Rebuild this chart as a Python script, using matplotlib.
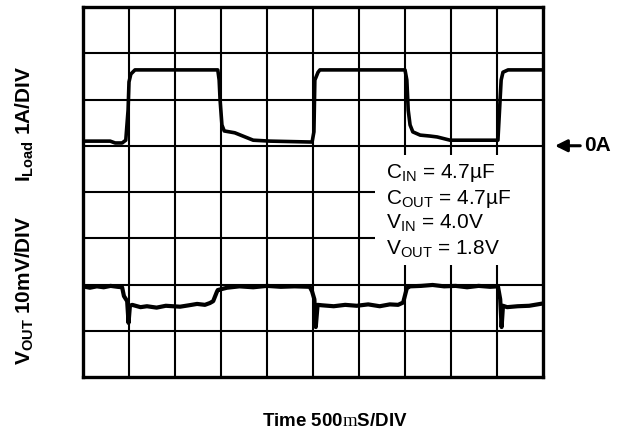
import matplotlib
matplotlib.use("Agg")
import matplotlib.pyplot as plt
from matplotlib.patches import Rectangle

plt.rcParams['font.family'] = ['Liberation Sans', 'DejaVu Sans']
plt.rcParams['mathtext.fontset'] = 'custom'
plt.rcParams['mathtext.rm'] = 'Liberation Serif'
plt.rcParams['mathtext.bf'] = 'Liberation Sans:bold'
plt.rcParams['mathtext.default'] = 'regular'

# time axis in divisions (500mS/DIV), 10 x 8 divisions
n_xdiv, n_ydiv = 10, 8

# load current trace, amps (1A/DIV), zero line at division 5
t_iload = [0.0, 0.59, 0.70, 0.85, 0.93, 0.98, 1.00, 1.04, 1.13,
           2.93, 2.96, 2.98, 3.02, 3.07, 3.30, 3.70, 4.07, 4.98,
           5.02, 5.04, 5.11, 5.15, 7.00, 7.04, 7.07, 7.11, 7.17,
           7.33, 7.54, 7.70, 7.98, 8.89, 9.02, 9.09, 9.13, 9.24, 10.0]
i_load = [0.10, 0.10, 0.06, 0.06, 0.12, 0.77, 1.38, 1.55, 1.64,
          1.64, 1.42, 0.99, 0.45, 0.32, 0.28, 0.12, 0.10, 0.08,
          0.30, 1.42, 1.59, 1.64, 1.64, 1.42, 0.77, 0.45, 0.30,
          0.23, 0.21, 0.19, 0.12, 0.12, 0.12, 1.42, 1.59, 1.64, 1.64]
iload_zero_div = 5

# output voltage deviation, mV (10mV/DIV), nominal at division 2
t_vout = [0.0, 0.15, 0.30, 0.45, 0.60, 0.75, 0.85, 0.89, 0.96, 0.99, 1.02,
          1.07, 1.25, 1.39, 1.60, 1.80, 2.11, 2.30, 2.48, 2.65, 2.76, 2.83,
          2.91, 2.93, 3.13, 3.40, 3.70, 4.00, 4.30, 4.60, 4.93, 4.98, 5.03,
          5.06, 5.10, 5.20, 5.45, 5.70, 5.95, 6.20, 6.45, 6.67, 6.85, 6.96, 7.04,
          7.11, 7.35, 7.60, 7.85, 8.10, 8.35, 8.60, 8.85, 9.02, 9.07, 9.10,
          9.13, 9.22, 9.45, 9.70, 10.0]
v_out = [-0.4, -0.7, -0.4, -0.6, -0.3, -0.5, -0.6, -2.5, -3.6, -8.3, -4.6,
         -4.4, -4.9, -4.7, -5.0, -4.6, -4.8, -4.5, -4.2, -4.4, -4.0, -3.6,
         -1.6, -1.2, -0.7, -0.4, -0.6, -0.3, -0.5, -0.4, -0.5, -1.5, -3.2,
         -9.2, -4.4, -4.5, -4.7, -4.4, -4.6, -4.3, -4.7, -4.3, -4.4, -3.9, -0.8,
         -0.4, -0.3, -0.1, -0.4, -0.3, -0.6, -0.3, -0.5, -0.4, -3.2, -9.2,
         -4.6, -4.9, -4.7, -4.6, -4.1]
vout_nominal_div = 2

conditions = ["C$_{IN}$ = 4.7µF", "C$_{OUT}$ = 4.7µF",
              "V$_{IN}$ = 4.0V", "V$_{OUT}$ = 1.8V"]

fig = plt.figure(figsize=(6.3, 4.37), dpi=100)
ax = fig.add_axes([83 / 630, 1 - 377 / 437, 460 / 630, 370 / 437])
ax.set_xlim(0, n_xdiv)
ax.set_ylim(0, n_ydiv)
ax.set_xticks([])
ax.set_yticks([])
for s in ax.spines.values():
    s.set_linewidth(2.4)

# scope graticule
for i in range(1, n_xdiv):
    ax.axvline(i, color='black', lw=1.5, zorder=1)
for j in range(1, n_ydiv):
    ax.axhline(j, color='black', lw=1.5, zorder=1)

# white patch behind the test conditions
ax.add_patch(Rectangle((6.35, 2.42), 3.65, 2.38, facecolor='white',
                       edgecolor='none', zorder=1.5))

ax.plot(t_iload, [v + iload_zero_div for v in i_load],
        color='black', lw=2.6, zorder=3, solid_joinstyle='round')
ax.plot(t_vout, [v / 10 + vout_nominal_div for v in v_out],
        color='black', lw=3.0, zorder=3, solid_joinstyle='round')

for k, txt in enumerate(conditions):
    ax.text(6.59, 4.30 - 0.55 * k, txt, fontsize=15, va='baseline', ha='left', zorder=4)

# zero marker for load current
ax.annotate('', xy=(10.2, iload_zero_div), xytext=(10.87, iload_zero_div),
            arrowprops=dict(arrowstyle='-|>', color='black', lw=2.2, mutation_scale=18),
            annotation_clip=False)
ax.text(10.9, iload_zero_div, '0A', fontsize=15, weight='bold', va='center', ha='left')

fig.text(25 / 630, 1 - 124 / 437, 'I$_{Load}$ 1A/DIV', rotation=90, fontsize=15,
         weight='bold', ha='center', va='center')
fig.text(25 / 630, 1 - 290 / 437, 'V$_{OUT}$ 10mV/DIV', rotation=90, fontsize=15,
         weight='bold', ha='center', va='center')
fig.text(335 / 630, 1 - 422 / 437, r'Time 500$\mathrm{m}$S/DIV', fontsize=13.5,
         weight='bold', ha='center', va='center')

fig.savefig('out.png', dpi=100)
